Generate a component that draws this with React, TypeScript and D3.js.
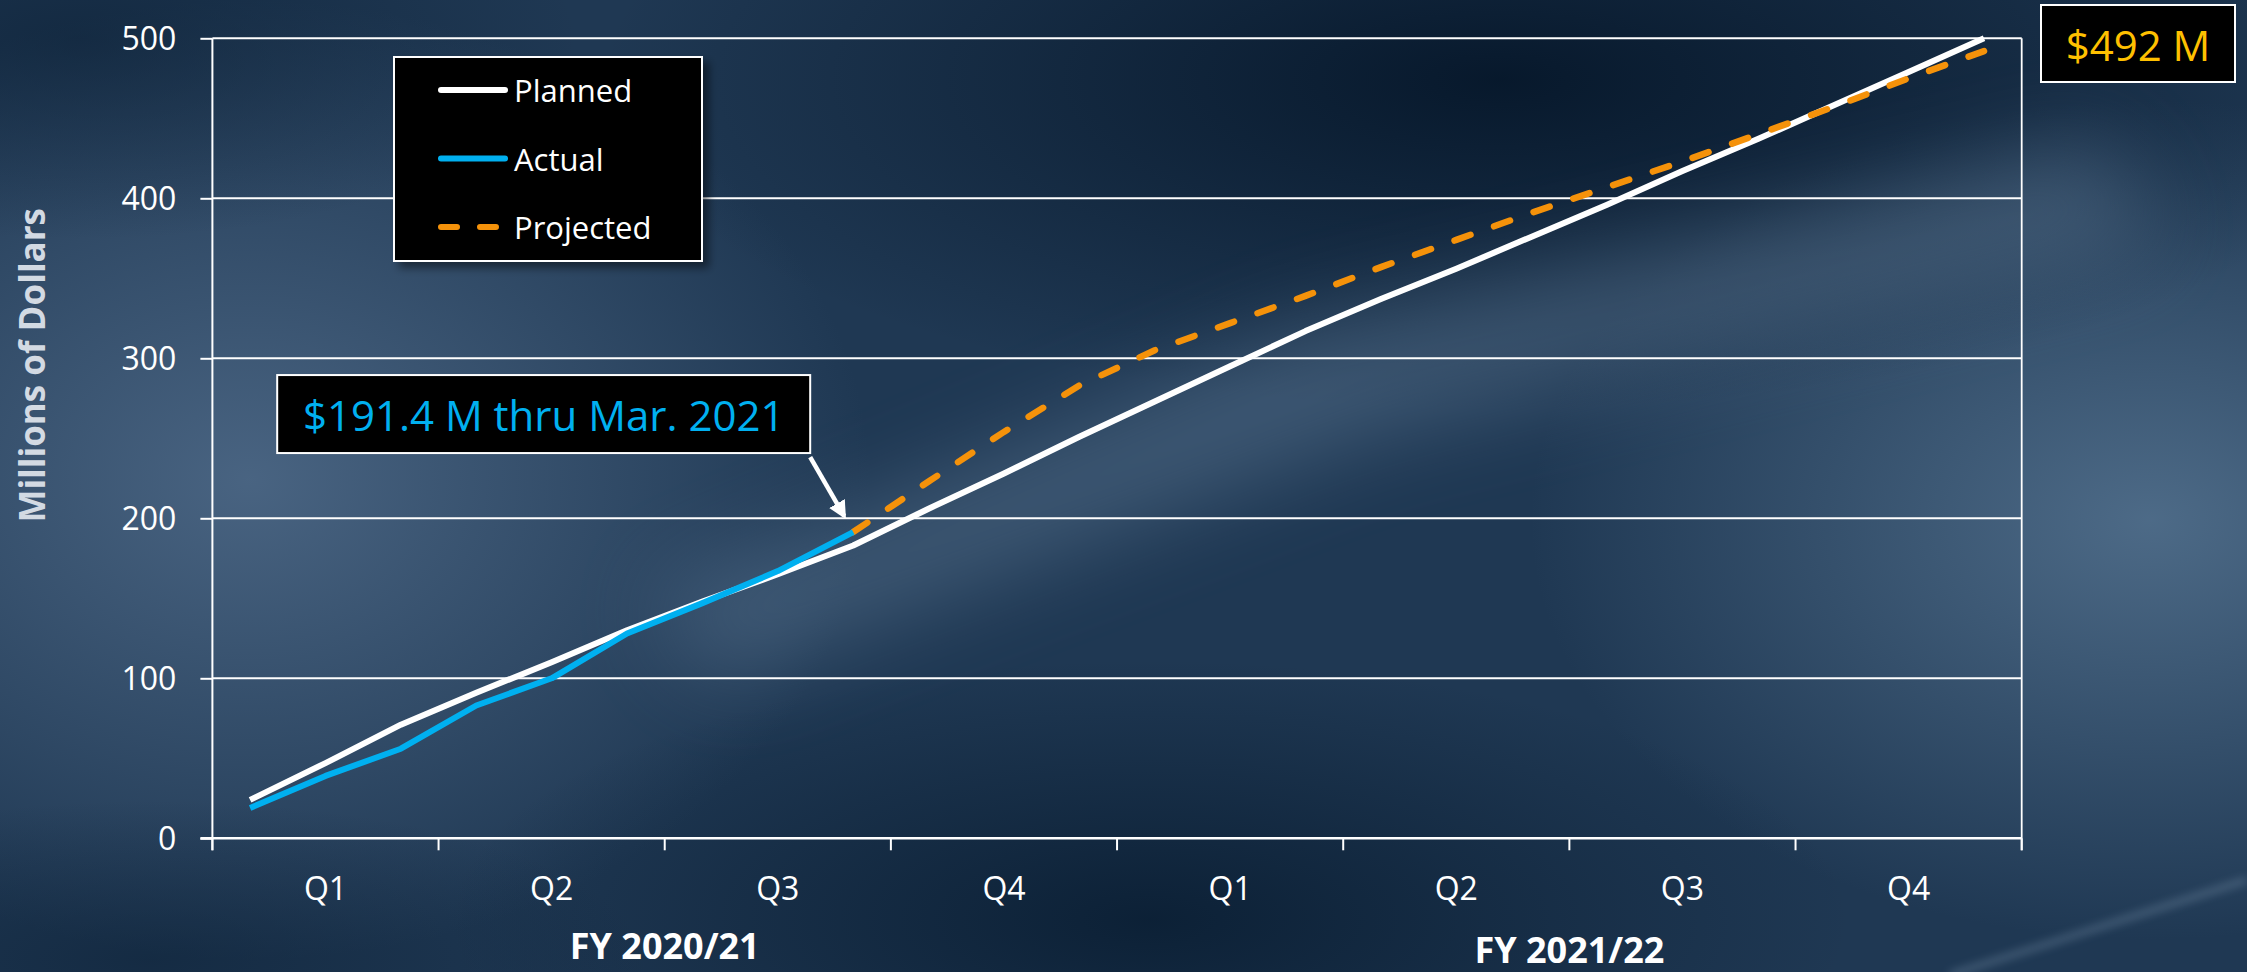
import { useEffect, useRef } from 'react';
import * as d3 from 'd3';

// monthly categories, FY runs Jul..Jun
const months = [
  'Jul 2020', 'Aug 2020', 'Sep 2020', 'Oct 2020', 'Nov 2020', 'Dec 2020',
  'Jan 2021', 'Feb 2021', 'Mar 2021', 'Apr 2021', 'May 2021', 'Jun 2021',
  'Jul 2021', 'Aug 2021', 'Sep 2021', 'Oct 2021', 'Nov 2021', 'Dec 2021',
  'Jan 2022', 'Feb 2022', 'Mar 2022', 'Apr 2022', 'May 2022', 'Jun 2022',
];
const quarterLabels = ['Q1', 'Q2', 'Q3', 'Q4', 'Q1', 'Q2', 'Q3', 'Q4'];
const fiscalYears = ['FY 2020/21', 'FY 2021/22'];
const yTicks = [0, 100, 200, 300, 400, 500];

// millions of dollars, cumulative
const planned = [24, 47, 71, 91, 110, 130, 148, 165, 183, 206, 228, 251, 273, 295, 317, 337, 356, 376, 396, 417, 437, 458, 479, 500];
const actual = [19, 39, 56, 83, 100, 128, 147, 167, 191.4];
const projected = [191.4, 223, 254, 283, 305, 322, 339, 357, 374, 391, 407, 423, 440, 457, 475, 492];
const projectedStart = 8;

const legendItems = [
  { label: 'Planned', color: '#ffffff', dash: null },
  { label: 'Actual', color: '#00b0f0', dash: null },
  { label: 'Projected', color: '#f5920a', dash: '16 23' },
];

const FONT = '"Open Sans", "DejaVu Sans", sans-serif';

export default function App() {
  const width = 2247,
    height = 972,
    marginTop = 38.3,
    marginLeft = 212.4,
    plotRight = 2021.7,
    plotBottom = 838.3;

  const gy = useRef<SVGGElement>(null);

  const x = d3.scaleBand<string>().domain(months).range([marginLeft, plotRight]).padding(0);
  const y = d3.scaleLinear().domain([0, 500]).range([plotBottom, marginTop]);
  const cx = (m: string) => (x(m) as number) + x.bandwidth() / 2;

  const line = d3
    .line<[string, number]>()
    .x((d) => cx(d[0]))
    .y((d) => y(d[1]));

  const plannedPts = planned.map((v, i) => [months[i], v] as [string, number]);
  const actualPts = actual.map((v, i) => [months[i], v] as [string, number]);
  const projectedPts = projected.map((v, i) => [months[i + projectedStart], v] as [string, number]);

  const quarterEdges = d3.range(0, 9).map((q) => (q < 8 ? (x(months[q * 3]) as number) : plotRight));
  const qCenter = (q: number) => (quarterEdges[q] + quarterEdges[q + 1]) / 2;

  const lastActual = actualPts[actualPts.length - 1];
  const ax = cx(lastActual[0]);
  const ay = y(lastActual[1]);

  useEffect(() => {
    const g = d3.select(gy.current);
    g.call(
      d3
        .axisLeft(y)
        .tickValues(yTicks)
        .tickSize(12)
        .tickSizeOuter(0)
        .tickPadding(24)
    );
    g.select('.domain').remove();
    g.selectAll('.tick line').attr('stroke', '#ffffff').attr('stroke-width', 2);
    g.selectAll('.tick text')
      .attr('fill', '#ffffff')
      .attr('font-family', FONT)
      .attr('font-size', 32)
      .attr('dy', '0.36em');
  }, []);

  return (
    <svg
      width={width}
      height={height}
      style={{ position: 'absolute', left: 0, top: 0, display: 'block' }}
    >
      <defs>
        <radialGradient id="lightL" cx="0.5" cy="0.5" r="0.5">
          <stop offset="0" stopColor="#4b6684" stopOpacity="0.95" />
          <stop offset="1" stopColor="#4b6684" stopOpacity="0" />
        </radialGradient>
        <radialGradient id="lightR" cx="0.5" cy="0.5" r="0.5">
          <stop offset="0" stopColor="#52708d" stopOpacity="0.9" />
          <stop offset="1" stopColor="#52708d" stopOpacity="0" />
        </radialGradient>
        <radialGradient id="darkT" cx="0.5" cy="0.5" r="0.5">
          <stop offset="0" stopColor="#06172a" stopOpacity="0.95" />
          <stop offset="1" stopColor="#06172a" stopOpacity="0" />
        </radialGradient>
        <radialGradient id="darkB" cx="0.5" cy="0.5" r="0.5">
          <stop offset="0" stopColor="#0a1e33" stopOpacity="0.9" />
          <stop offset="1" stopColor="#0a1e33" stopOpacity="0" />
        </radialGradient>
        <filter id="blur40" x="-50%" y="-50%" width="200%" height="200%">
          <feGaussianBlur stdDeviation="45" />
        </filter>
        <filter id="blur6" x="-20%" y="-50%" width="140%" height="200%">
          <feGaussianBlur stdDeviation="5" />
        </filter>
        <filter id="shadow" x="-10%" y="-10%" width="130%" height="130%">
          <feDropShadow dx="6" dy="6" stdDeviation="4" floodColor="#000000" floodOpacity="0.45" />
        </filter>
        <marker id="arrowHead" viewBox="0 0 10 10" refX="8" refY="5" markerWidth="4" markerHeight="4" orient="auto">
          <path d="M0,0 L10,5 L0,10 Z" fill="#ffffff" />
        </marker>
      </defs>

      {/* background */}
      <rect x={0} y={0} width={width} height={height} fill="#1f3853" />
      <ellipse cx={250} cy={480} rx={620} ry={480} fill="url(#lightL)" />
      <ellipse cx={2150} cy={520} rx={620} ry={420} fill="url(#lightR)" />
      <ellipse cx={1500} cy={80} rx={900} ry={330} fill="url(#darkT)" />
      <ellipse cx={1150} cy={920} rx={700} ry={260} fill="url(#darkB)" />
      <ellipse cx={80} cy={40} rx={500} ry={200} fill="url(#darkB)" opacity={0.6} />
      <ellipse cx={150} cy={960} rx={500} ry={160} fill="url(#darkB)" opacity={0.55} />
      <g filter="url(#blur40)" opacity={0.42}>
        <path d="M650,600 L1300,330 L2100,140 L2160,240 L1380,430 L720,680 Z" fill="#6a86a3" />
      </g>
      <g filter="url(#blur6)" opacity={0.55}>
        <path d="M1950,975 L2247,880" stroke="#8aa3bb" strokeWidth={4} fill="none" />
      </g>

      {/* gridlines */}
      <g>
        {yTicks
          .filter((t) => t > 0)
          .map((t) => (
            <line key={t} x1={marginLeft} x2={plotRight} y1={y(t)} y2={y(t)} stroke="#ffffff" strokeWidth={2} />
          ))}
      </g>
      {/* right border */}
      <line x1={plotRight} x2={plotRight} y1={marginTop} y2={plotBottom + 12} stroke="#ffffff" strokeWidth={1.8} />

      {/* axes */}
      <line x1={marginLeft} x2={marginLeft} y1={marginTop} y2={plotBottom + 12} stroke="#ffffff" strokeWidth={2} />
      <line x1={marginLeft - 12} x2={plotRight} y1={plotBottom} y2={plotBottom} stroke="#ffffff" strokeWidth={2.5} />
      <g ref={gy} transform={`translate(${marginLeft},0)`} />
      <g>
        {quarterEdges.map((e, i) => (
          <line key={i} x1={e} x2={e} y1={plotBottom} y2={plotBottom + 12} stroke="#ffffff" strokeWidth={2} />
        ))}
        {quarterLabels.map((q, i) => (
          <text
            key={i}
            x={qCenter(i)}
            y={887}
            fill="#ffffff"
            fontFamily={FONT}
            fontSize={32}
            textAnchor="middle"
            dominantBaseline="central"
          >
            {q}
          </text>
        ))}
        {fiscalYears.map((fy, i) => (
          <text
            key={fy}
            x={(quarterEdges[i * 4] + quarterEdges[i * 4 + 4]) / 2}
            y={i === 0 ? 945 : 949}
            fill="#ffffff"
            fontFamily={FONT}
            fontWeight="bold"
            fontSize={36}
            textAnchor="middle"
            dominantBaseline="central"
          >
            {fy}
          </text>
        ))}
      </g>

      {/* y title */}
      <text
        transform={`translate(31,${(marginTop + plotBottom) / 2 - 73}) rotate(-90)`}
        fill="#d3dae3"
        fontFamily={FONT}
        fontWeight="bold"
        fontSize={35}
        textAnchor="middle"
        dominantBaseline="central"
      >
        Millions of Dollars
      </text>

      {/* series */}
      <path d={line(plannedPts) ?? ''} fill="none" stroke="#ffffff" strokeWidth={6} strokeLinejoin="round" />
      <path
        d={line(projectedPts) ?? ''}
        fill="none"
        stroke="#f5920a"
        strokeWidth={6.5}
        strokeDasharray="17 25"
        strokeLinecap="round"
      />
      <path d={line(actualPts) ?? ''} fill="none" stroke="#00b0f0" strokeWidth={6} strokeLinejoin="round" />

      {/* legend */}
      <g filter="url(#shadow)">
        <rect x={394} y={57} width={308} height={204} fill="#000000" stroke="#ffffff" strokeWidth={2} />
      </g>
      {legendItems.map((item, i) => {
        const ly = 90 + i * 68.5;
        return (
          <g key={item.label}>
            <line
              x1={441}
              x2={505}
              y1={ly}
              y2={ly}
              stroke={item.color}
              strokeWidth={6}
              strokeLinecap="round"
              strokeDasharray={item.dash ?? undefined}
            />
            <text x={514} y={ly} fill="#ffffff" fontFamily={FONT} fontSize={31} dominantBaseline="central">
              {item.label}
            </text>
          </g>
        );
      })}

      {/* annotation for last actual */}
      <rect x={ax - 576} y={ay - 157} width={533} height={78} fill="#000000" stroke="#ffffff" strokeWidth={2} />
      <text
        x={ax - 576 + 266.5}
        y={ay - 118}
        fill="#00b0f0"
        fontFamily={FONT}
        fontSize={42}
        textAnchor="middle"
        dominantBaseline="central"
      >
        $191.4 M thru Mar. 2021
      </text>
      <line
        x1={ax - 43}
        y1={ay - 75}
        x2={ax - 9}
        y2={ay - 16}
        stroke="#ffffff"
        strokeWidth={4.5}
        markerEnd="url(#arrowHead)"
      />

      {/* final projected total */}
      <rect x={2041} y={5} width={194} height={77} fill="#000000" stroke="#ffffff" strokeWidth={2} />
      <text
        x={2138}
        y={44}
        fill="#ffc000"
        fontFamily={FONT}
        fontSize={42}
        textAnchor="middle"
        dominantBaseline="central"
      >
        $492 M
      </text>
    </svg>
  );
}
